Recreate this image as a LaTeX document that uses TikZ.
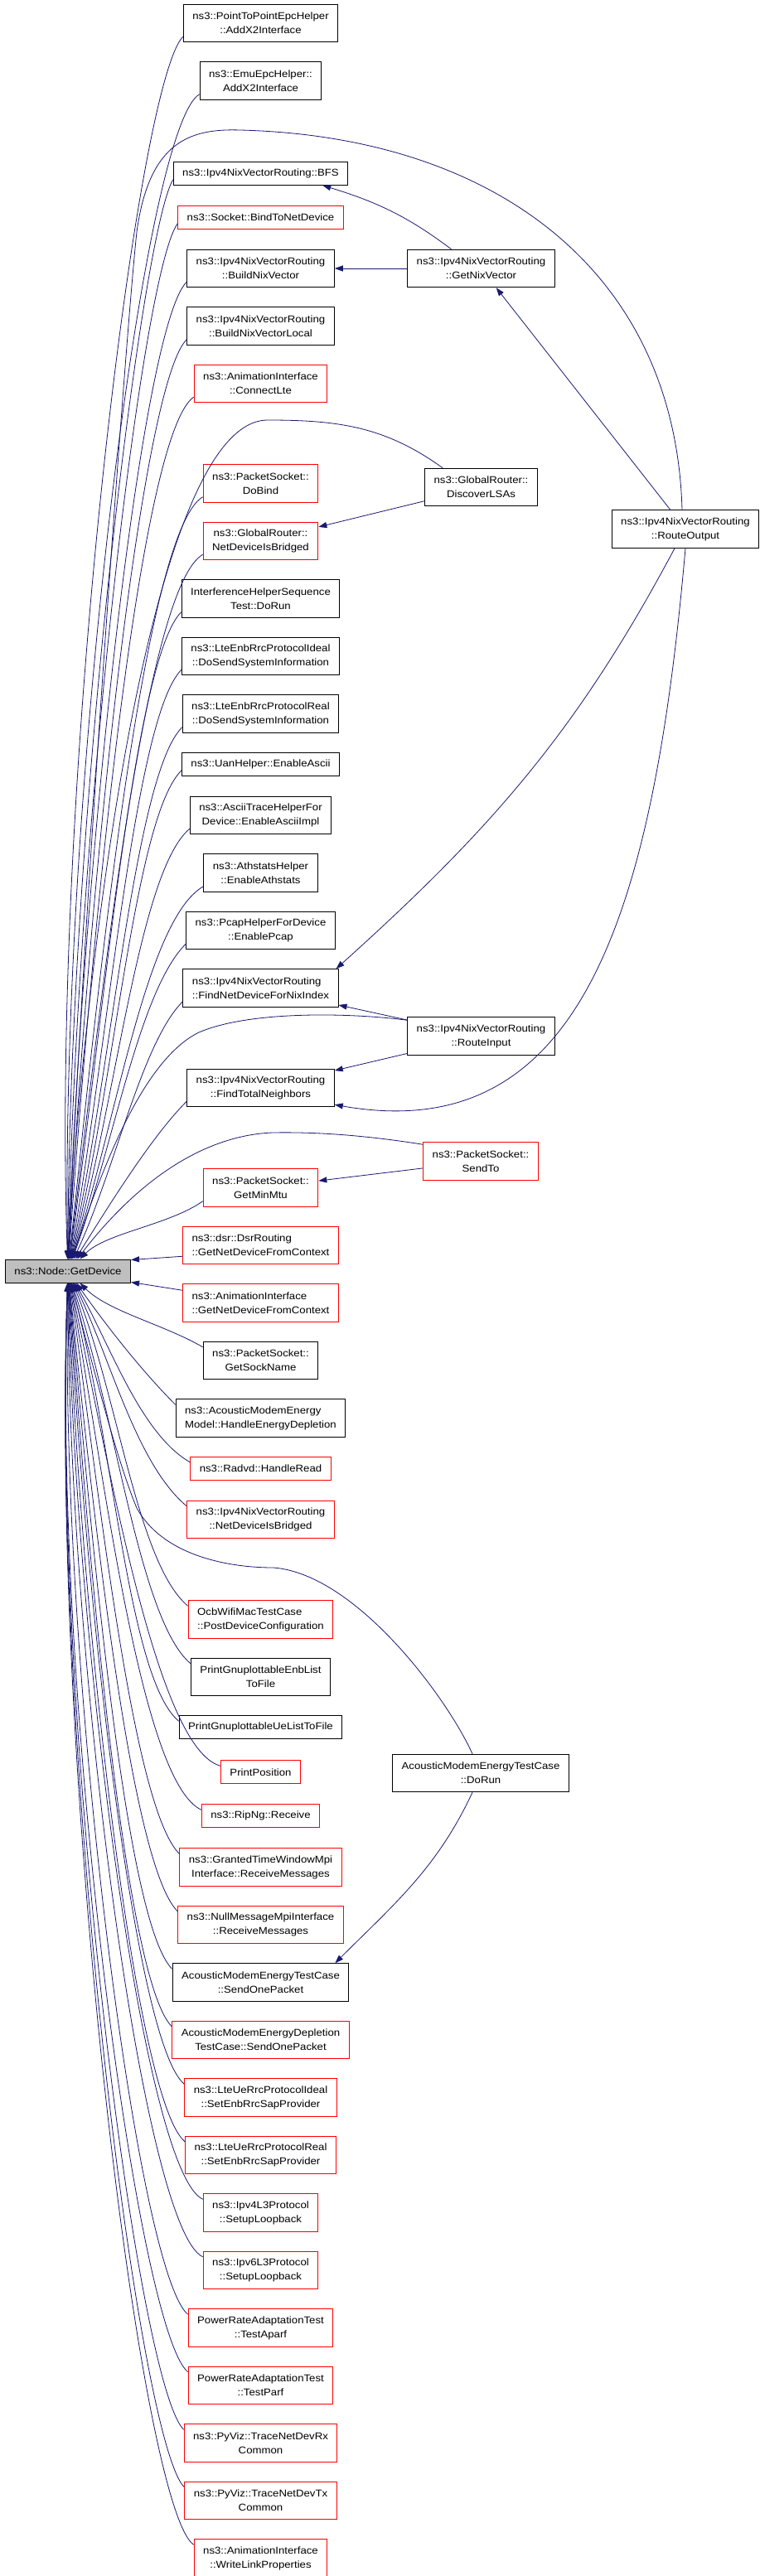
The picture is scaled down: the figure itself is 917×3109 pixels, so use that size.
\documentclass[tikz,border=0pt]{standalone}
\usepackage{fontspec}
\setmainfont{Liberation Sans}[FakeStretch=1.1]
\usepackage{tikz}
\usetikzlibrary{positioning, arrows.meta}
\definecolor{edgeblue}{HTML}{191970}
\definecolor{nodocred}{HTML}{FF0000}
\definecolor{rootgray}{HTML}{BFBFBF}
\newcommand{\fnfont}{\fontsize{12}{17}\selectfont}
\tikzstyle{fn} = [rectangle, draw=black, fill=white, line width=1pt, inner xsep=11pt, inner ysep=2pt, minimum height=45.5pt, align=center, font=\fnfont]
\tikzstyle{fnone} = [fn, minimum height=28pt]
\tikzstyle{nodoc} = [draw=nodocred]
\tikzstyle{root} = [fn, minimum height=28pt, fill=rootgray]
\tikzstyle{arrow} = [-{Triangle[length=10pt,width=7pt]}, draw=edgeblue, line width=0.8pt]

\begin{document}
\begin{tikzpicture}[x=1pt, y=1pt, node distance=23pt]
\useasboundingbox (0,0) rectangle (917,-3109);
%被调用的函数
\node[root](gd) at (82,-1534){ns3::Node::GetDevice};
%调用者一列
\node[fn](p2p) at (314.5,-28){ns3::PointToPointEpcHelper\\::AddX2Interface};
\node[fn, below=of p2p](emu){ns3::EmuEpcHelper::\\AddX2Interface};
\node[fnone, below=74pt of emu](bfs){ns3::Ipv4NixVectorRouting::BFS};
\node[fnone, nodoc, below=24pt of bfs](bind){ns3::Socket::BindToNetDevice};
\node[fn, below=24pt of bind](buildnix){ns3::Ipv4NixVectorRouting\\::BuildNixVector};
\node[fn, below=of buildnix](buildlocal){ns3::Ipv4NixVectorRouting\\::BuildNixVectorLocal};
\node[fn, nodoc, below=of buildlocal](connectlte){ns3::AnimationInterface\\::ConnectLte};
\node[fn, nodoc, below=74pt of connectlte](dobind){ns3::PacketSocket::\\DoBind};
\node[fn, nodoc, below=of dobind](grbridged){ns3::GlobalRouter::\\NetDeviceIsBridged};
\node[fn, below=of grbridged](interf){InterferenceHelperSequence\\Test::DoRun};
\node[fn, below=of interf](enbideal){ns3::LteEnbRrcProtocolIdeal\\::DoSendSystemInformation};
\node[fn, below=of enbideal](enbreal){ns3::LteEnbRrcProtocolReal\\::DoSendSystemInformation};
\node[fnone, below=of enbreal](uan){ns3::UanHelper::EnableAscii};
\node[fn, below=24pt of uan](ascii){ns3::AsciiTraceHelperFor\\Device::EnableAsciiImpl};
\node[fn, below=of ascii](athstats){ns3::AthstatsHelper\\::EnableAthstats};
\node[fn, below=of athstats](pcap){ns3::PcapHelperForDevice\\::EnablePcap};
\node[fn, align=left, below=of pcap](findnd){ns3::Ipv4NixVectorRouting\\::FindNetDeviceForNixIndex};
\node[fn, below=74pt of findnd](findtn){ns3::Ipv4NixVectorRouting\\::FindTotalNeighbors};
\node[fn, nodoc, below=74pt of findtn](minmtu){ns3::PacketSocket::\\GetMinMtu};
\node[fn, nodoc, align=left, below=of minmtu](dsrctx){ns3::dsr::DsrRouting\\::GetNetDeviceFromContext};
\node[fn, nodoc, align=left, below=of dsrctx](animctx){ns3::AnimationInterface\\::GetNetDeviceFromContext};
\node[fn, below=of animctx](sockname){ns3::PacketSocket::\\GetSockName};
\node[fn, align=left, below=of sockname](modeldepl){ns3::AcousticModemEnergy\\Model::HandleEnergyDepletion};
\node[fnone, nodoc, below=of modeldepl](radvd){ns3::Radvd::HandleRead};
\node[fn, nodoc, below=24pt of radvd](nixbridged){ns3::Ipv4NixVectorRouting\\::NetDeviceIsBridged};
\node[fn, nodoc, align=left, below=74pt of nixbridged](ocb){OcbWifiMacTestCase\\::PostDeviceConfiguration};
\node[fn, below=of ocb](enblist){PrintGnuplottableEnbList\\ToFile};
\node[fnone, below=of enblist](uelist){PrintGnuplottableUeListToFile};
\node[fnone, nodoc, below=25pt of uelist](printpos){PrintPosition};
\node[fnone, nodoc, below=24pt of printpos](ripng){ns3::RipNg::Receive};
\node[fn, nodoc, below=24pt of ripng](granted){ns3::GrantedTimeWindowMpi\\Interface::ReceiveMessages};
\node[fn, nodoc, below=of granted](nullmsg){ns3::NullMessageMpiInterface\\::ReceiveMessages};
\node[fn, below=of nullmsg](sendone){AcousticModemEnergyTestCase\\::SendOnePacket};
\node[fn, nodoc, below=of sendone](deplsend){AcousticModemEnergyDepletion\\TestCase::SendOnePacket};
\node[fn, nodoc, below=of deplsend](ueideal){ns3::LteUeRrcProtocolIdeal\\::SetEnbRrcSapProvider};
\node[fn, nodoc, below=of ueideal](uereal){ns3::LteUeRrcProtocolReal\\::SetEnbRrcSapProvider};
\node[fn, nodoc, below=of uereal](v4loop){ns3::Ipv4L3Protocol\\::SetupLoopback};
\node[fn, nodoc, below=of v4loop](v6loop){ns3::Ipv6L3Protocol\\::SetupLoopback};
\node[fn, nodoc, below=of v6loop](aparf){PowerRateAdaptationTest\\::TestAparf};
\node[fn, nodoc, below=of aparf](parf){PowerRateAdaptationTest\\::TestParf};
\node[fn, nodoc, below=of parf](rxcommon){ns3::PyViz::TraceNetDevRx\\Common};
\node[fn, nodoc, below=of rxcommon](txcommon){ns3::PyViz::TraceNetDevTx\\Common};
\node[fn, nodoc, below=of txcommon](linkprop){ns3::AnimationInterface\\::WriteLinkProperties};
%右边两列
\node[fn](getnix) at (580.5,-324){ns3::Ipv4NixVectorRouting\\::GetNixVector};
\node[fn](discover) at (580.5,-588){ns3::GlobalRouter::\\DiscoverLSAs};
\node[fn](routeout) at (827,-638.5){ns3::Ipv4NixVectorRouting\\::RouteOutput};
\node[fn](routein) at (580.5,-1250.5){ns3::Ipv4NixVectorRouting\\::RouteInput};
\node[fn, nodoc](sendto) at (580,-1401.5){ns3::PacketSocket::\\SendTo};
\node[fn](dorun) at (580,-2140){AcousticModemEnergyTestCase\\::DoRun};
%连接到 GetDevice
\foreach \n/\o/\p/\i/\d in {p2p/225/80/92/580, emu/210/80/91/552, bfs/240/80/90/511, bind/235/80/89/490,
  buildnix/225/80/88/464, buildlocal/225/80/87/437, connectlte/215/80/86/411, dobind/210/80/84/365,
  grbridged/210/80/83/338, interf/225/80/82/310, enbideal/225/80/80/283, enbreal/225/80/78/257,
  uan/225/80/76/237, ascii/220/80/74/212, athstats/210/80/72/188, pcap/225/80/70/160,
  findnd/225/70/65/134, findtn/225/60/58/92, minmtu/215/50/45/65}
  \draw[arrow] ([yshift=7pt]\n.south west) .. controls +(\o:\p) and ([shift={(\i:\d)}]gd.center) .. (gd);
\foreach \n/\o/\p/\i/\d in {sockname/150/55/-45/69, modeldepl/135/60/-55/75, radvd/150/70/-60/100,
  nixbridged/140/80/-64/117, ocb/140/80/-68/161, enblist/140/80/-72/187, uelist/140/80/-75/211,
  printpos/165/80/-78/236, ripng/155/80/-80/253, granted/135/80/-82/271, nullmsg/135/80/-84/297,
  sendone/135/80/-85/324, deplsend/135/80/-86/350, ueideal/140/80/-87/378, uereal/140/80/-88/405,
  v4loop/155/80/-89/433, v6loop/155/80/-90/460, aparf/140/80/-91/486, parf/140/80/-92/513,
  rxcommon/135/80/-92/540, txcommon/135/80/-92/566, linkprop/145/80/-92/594}
  \draw[arrow] ([yshift=-7pt]\n.north west) .. controls +(\o:\p) and ([shift={(\i:\d)}]gd.center) .. (gd);
\draw[arrow] ([yshift=10pt]dsrctx.south west) -- ([yshift=-1pt]gd.north east);
\draw[arrow] ([yshift=-8pt]animctx.north west) -- ([yshift=1pt]gd.south east);
%长的连线
\draw[arrow] ([xshift=-4pt]routeout.north) .. controls (815,-330) and (600,-165) .. (290,-157)
  .. controls (230,-155) and (180,-170) .. (165,-280) .. controls (150,-420) and (95,-1200) .. (gd);
\draw[arrow] ([xshift=22pt]discover.north west) .. controls (465,-515) and (409,-507) .. (323,-507)
  .. controls (160,-507) and (88,-1357) .. (gd);
\draw[arrow] ([yshift=-4pt]routein.north west) .. controls (420,-1222) and (300,-1220) .. (240,-1246)
  .. controls (170,-1280) and (120,-1420) .. (gd);
\draw[arrow] ([yshift=-3pt]sendto.north west) .. controls (440,-1370) and (380,-1366) .. (329,-1367)
  .. controls (250,-1370) and (170,-1420) .. (gd);
\draw[arrow] ([xshift=-10pt]dorun.north) .. controls (540,-2050) and (430,-1900) .. (330,-1892)
  .. controls (270,-1892) and (195,-1875) .. (165,-1820) .. controls (140,-1760) and (110,-1640) .. (gd);
%其它的连线
\draw[arrow] ([xshift=-36pt]getnix.north) .. controls +(143:67) and +(-17:67) .. ([xshift=-31pt]bfs.south east);
\draw[arrow] (getnix) -- (buildnix);
\draw[arrow] (routeout) -- (getnix);
\draw[arrow] ([xshift=-13pt]routeout.south) .. controls +(242:251) and +(42:251) .. ([xshift=-3pt]findnd.north east);
\draw[arrow] (routeout.south) .. controls +(-95:450) and +(-10:300) .. ([yshift=3pt]findtn.south east);
\draw[arrow] (discover) -- (grbridged);
\draw[arrow] (routein) -- (findnd);
\draw[arrow] (routein) -- (findtn);
\draw[arrow] (sendto) -- (minmtu);
\draw[arrow] ([xshift=-10pt]dorun.south) .. controls +(245:101) and +(45:101) .. ([xshift=-17pt]sendone.north east);
\end{tikzpicture}
\end{document}
